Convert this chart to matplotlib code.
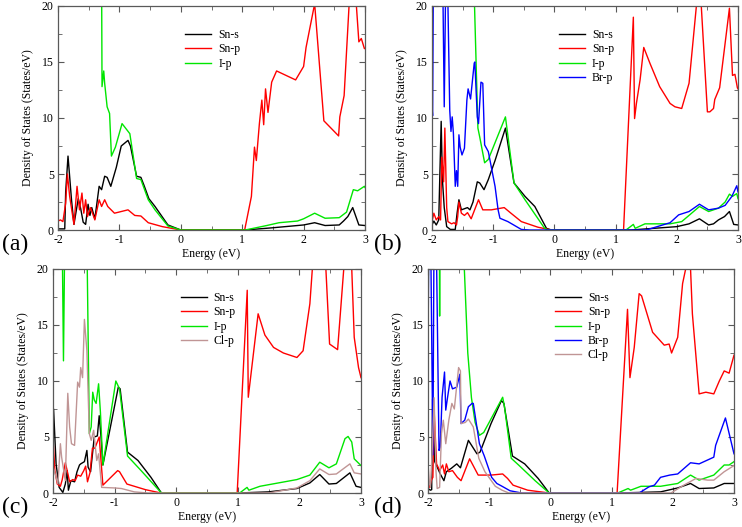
import matplotlib
matplotlib.use("Agg")
import matplotlib.pyplot as plt
from matplotlib.ticker import MultipleLocator

plt.rcParams["font.family"] = ["Liberation Serif", "DejaVu Serif"]
plt.rcParams["axes.unicode_minus"] = False

# ---- panel (a): Sn-s, Sn-p, I-p ----
a_sns_e = [-2.0, -1.89, -1.875, -1.837, -1.78, -1.74, -1.67, -1.63, -1.59, -1.55, -1.51, -1.48, -1.45, -1.40,
           -1.33, -1.29, -1.24, -1.20, -1.14, -1.05, -0.97, -0.86, -0.82, -0.72, -0.65, -0.60, -0.52, -0.42,
           -0.21, 0.0, 1.05, 1.5, 2.0, 2.18, 2.35, 2.58, 2.65, 2.72, 2.80, 2.90, 3.0]
a_sns_v = [0.1, 0.1, 3.4, 6.6, 2.7, 0.5, 2.8, 1.9, 0.7, 0.5, 2.3, 1.3, 2.0, 1.0,
           3.9, 3.6, 4.8, 4.7, 3.9, 5.6, 7.5, 8.0, 7.5, 4.8, 4.7, 4.0, 2.8, 2.1,
           0.45, 0.0, 0.0, 0.2, 0.45, 0.65, 0.4, 0.45, 0.8, 1.2, 2.0, 0.45, 0.4]
a_snp_e = [-2.0, -1.96, -1.92, -1.875, -1.847, -1.81, -1.74, -1.69, -1.65, -1.61, -1.58, -1.55, -1.52, -1.47,
           -1.40, -1.33, -1.29, -1.24, -1.19, -1.08, -0.86, -0.75, -0.65, -0.53, -0.3, 0.0, 1.04, 1.15, 1.20,
           1.23, 1.28, 1.32, 1.35, 1.38, 1.42, 1.48, 1.56, 1.87, 2.00, 2.04, 2.18, 2.33, 2.57, 2.59, 2.66,
           2.74, 2.80, 2.86, 2.90, 2.94, 2.99, 3.0]
a_snp_v = [0.8, 0.9, 0.75, 2.4, 5.0, 3.0, 0.5, 3.9, 1.8, 3.3, 1.5, 2.7, 1.2, 2.0,
           0.9, 2.7, 2.1, 2.7, 2.1, 1.5, 1.8, 1.3, 1.25, 0.65, 0.3, 0.0, 0.0, 3.0, 7.4,
           6.2, 9.5, 11.6, 9.4, 12.6, 10.5, 13.2, 14.2, 13.4, 14.6, 16.3, 20.2, 9.75, 8.4, 10.1, 12.0,
           20.0, 24.0, 20.0, 16.8, 17.1, 16.2, 16.2]
a_ip_e = [-1.295, -1.283, -1.255, -1.24, -1.20, -1.16, -1.13, -1.065, -0.957, -0.83, -0.72, -0.65, -0.53,
          -0.42, -0.21, 0.0, 1.05, 1.4, 1.6, 1.9, 2.0, 2.18, 2.35, 2.58, 2.70, 2.81, 2.88, 2.99, 3.0]
a_ip_v = [30.0, 12.8, 14.2, 13.1, 11.0, 10.4, 6.6, 7.4, 9.5, 8.6, 4.6, 4.5, 2.7,
          1.8, 0.36, 0.0, 0.0, 0.4, 0.65, 0.8, 1.0, 1.5, 1.05, 1.1, 1.6, 3.6, 3.5, 3.9, 3.8]

# ---- panel (b): Sn-s, Sn-p, I-p, Br-p ----
b_sns_e = [-2.0, -1.97, -1.93, -1.89, -1.85, -1.83, -1.80, -1.76, -1.70, -1.62, -1.59, -1.56, -1.52, -1.47,
           -1.42, -1.38, -1.33, -1.26, -1.22, -1.15, -1.08, -0.97, -0.80, -0.66, -0.48, -0.32, -0.13, -0.05,
           1.25, 1.5, 2.0, 2.2, 2.37, 2.52, 2.60, 2.68, 2.78, 2.86, 2.93, 3.0]
b_sns_v = [0.45, 0.8, 0.45, 0.9, 9.7, 4.5, 2.0, 0.3, 0.05, 0.05, 1.5, 2.7, 1.8, 1.9,
           2.0, 1.8, 2.5, 4.3, 4.2, 3.6, 4.5, 6.2, 9.1, 4.2, 3.0, 2.1, 0.15, 0.0,
           0.0, 0.1, 0.3, 0.55, 1.0, 0.45, 0.55, 0.9, 1.2, 1.65, 0.5, 0.45]
b_snp_e = [-2.0, -1.97, -1.93, -1.89, -1.86, -1.84, -1.81, -1.79, -1.76, -1.74, -1.68, -1.64, -1.60, -1.58,
           -1.56, -1.52, -1.47, -1.42, -1.36, -1.24, -1.17, -1.03, -0.82, -0.71, -0.54, -0.27, -0.05, 1.13,
           1.29, 1.31, 1.34, 1.40, 1.46, 1.56, 1.72, 1.89, 1.97, 2.08, 2.20, 2.32, 2.36, 2.40, 2.50, 2.54,
           2.60, 2.62, 2.70, 2.86, 2.91, 2.95, 2.99, 3.0]
b_snp_v = [0.75, 1.5, 0.9, 1.2, 0.9, 6.5, 4.3, 9.1, 2.0, 0.75, 0.55, 0.65, 0.45, 1.2,
           2.5, 1.5, 1.3, 1.55, 1.0, 2.7, 1.8, 1.8, 2.0, 1.5, 0.75, 0.25, 0.0, 0.0,
           19.0, 9.95, 11.3, 13.4, 16.3, 14.9, 12.8, 11.3, 11.0, 10.85, 13.1, 20.0, 24.0, 20.0, 10.55, 10.55,
           10.85, 11.65, 12.7, 19.8, 13.8, 13.9, 12.7, 12.6]
b_ip_e = [-1.31, -1.25, -1.22, -1.14, -1.08, -0.80, -0.66, -0.48, -0.16, -0.11, 1.17, 1.29, 1.32,
          1.48, 1.89, 2.08, 2.21, 2.37, 2.52, 2.68, 2.79, 2.86, 2.91, 2.98, 3.0]
b_ip_v = [21.0, 9.1, 8.3, 6.0, 6.3, 10.1, 4.2, 2.7, 0.15, 0.0, 0.0, 0.5, 0.15,
          0.55, 0.55, 0.75, 1.35, 2.1, 1.65, 1.95, 2.5, 3.2, 3.0, 3.25, 2.8]
b_brp_e = [-2.0, -1.99, -1.975, -1.83, -1.80, -1.77, -1.755, -1.71, -1.69, -1.67, -1.65, -1.62, -1.60, -1.58,
           -1.56, -1.54, -1.51, -1.47, -1.43, -1.41, -1.37, -1.31, -1.30, -1.26, -1.24, -1.20, -1.17, -1.14,
           -1.08, -1.03, -0.97, -0.92, -0.89, -0.76, -0.54, -0.40, 1.5, 1.89, 2.03, 2.20, 2.37, 2.52, 2.68,
           2.79, 2.90, 2.98, 3.0]
b_brp_v = [11.0, 10.2, 25.0, 25.0, 11.0, 25.0, 25.0, 10.7, 8.8, 10.1, 8.6, 3.9, 5.3, 3.9,
           8.5, 7.4, 6.7, 7.3, 11.6, 12.6, 11.7, 14.9, 15.0, 10.1, 9.5, 13.2, 13.1, 7.6,
           7.0, 5.6, 3.9, 1.8, 1.05, 0.75, 0.05, 0.0, 0.0, 0.65, 1.35, 1.65, 2.3, 1.8, 1.95,
           2.2, 3.0, 3.95, 3.4]

# ---- panel (c): Sn-s, Sn-p, I-p, Cl-p ----
c_sns_e = [-2.0, -1.99, -1.95, -1.90, -1.84, -1.80, -1.77, -1.75, -1.71, -1.65, -1.61, -1.57, -1.55, -1.49,
           -1.45, -1.43, -1.39, -1.33, -1.28, -1.25, -1.22, -1.19, -0.94, -0.91, -0.79, -0.62, -0.41, -0.24,
           1.0, 1.5, 1.96, 2.17, 2.33, 2.48, 2.60, 2.82, 2.92, 3.0]
c_sns_v = [7.8, 7.4, 2.6, 0.5, 0.05, 0.8, 2.0, 0.25, 1.1, 1.0, 1.9, 2.5, 2.6, 2.8,
           3.8, 2.3, 1.9, 5.0, 5.1, 6.9, 5.0, 2.5, 9.45, 9.3, 3.65, 2.9, 1.4, 0.0,
           0.0, 0.1, 0.4, 0.9, 1.65, 0.8, 0.85, 1.8, 0.6, 0.5]
c_snp_e = [-2.0, -1.97, -1.93, -1.88, -1.85, -1.80, -1.77, -1.73, -1.68, -1.64, -1.60, -1.55, -1.50, -1.47,
           -1.44, -1.40, -1.36, -1.32, -1.25, -1.19, -0.95, -0.92, -0.80, -0.5, -0.25, 0.99, 1.153, 1.17,
           1.33, 1.44, 1.58, 1.74, 1.96, 2.06, 2.17, 2.21, 2.32, 2.43, 2.49, 2.62, 2.72, 2.78, 2.85, 2.89,
           2.96, 3.0]
c_snp_v = [4.8, 2.0, 0.8, 0.6, 1.2, 2.7, 2.0, 1.0, 1.2, 1.1, 1.6, 1.5, 2.0, 2.4,
           1.0, 1.8, 4.0, 4.0, 5.0, 0.7, 2.0, 1.9, 0.8, 0.3, 0.0, 0.0, 18.1, 8.55,
           16.0, 14.1, 13.0, 12.5, 12.1, 12.7, 16.9, 20.0, 26.0, 20.0, 13.3, 12.8, 20.0, 24.0, 20.0, 13.9,
           11.2, 10.3]
c_ip_e = [-1.855, -1.83, -1.805, -1.455, -1.41, -1.38, -1.355, -1.33, -1.30, -1.26, -1.23, -1.19, -0.98,
          -0.92, -0.79, -0.57, -0.24, 1.03, 1.15, 1.18, 1.36, 1.96, 2.17, 2.33, 2.48, 2.60, 2.74, 2.79,
          2.85, 2.89, 3.0]
c_ip_v = [25.0, 11.8, 25.0, 25.0, 5.3, 5.9, 9.0, 8.3, 8.0, 9.75, 7.2, 2.5, 10.0,
          9.3, 3.3, 2.0, 0.0, 0.0, 0.5, 0.25, 0.6, 1.2, 1.6, 2.75, 2.25, 2.6, 4.85, 5.05,
          4.55, 3.05, 2.45]
c_clp_e = [-2.0, -1.99, -1.92, -1.88, -1.86, -1.80, -1.76, -1.73, -1.70, -1.65, -1.60, -1.57, -1.55, -1.52,
           -1.49, -1.45, -1.41, -1.38, -1.34, -1.29, -1.26, -1.21, -1.0, -0.89, -0.68, -0.46, 1.5, 1.96,
           2.17, 2.33, 2.48, 2.60, 2.82, 2.89, 3.0]
c_clp_v = [2.5, 2.2, 0.8, 4.4, 3.2, 1.1, 8.9, 5.9, 4.4, 4.25, 9.9, 9.45, 11.2, 10.3,
           15.5, 12.7, 5.3, 4.7, 5.6, 2.9, 3.5, 0.5, 0.45, 0.4, 0.1, 0.0, 0.0, 0.45,
           1.1, 2.15, 1.65, 1.7, 2.6, 1.8, 1.7]

# ---- panel (d): Sn-s, Sn-p, I-p, Br-p, Cl-p ----
d_sns_e = [-2.0, -1.96, -1.94, -1.925, -1.89, -1.84, -1.80, -1.74, -1.70, -1.62, -1.53, -1.47, -1.34, -1.20,
           -1.15, -0.97, -0.80, -0.76, -0.62, -0.42, -0.2, -0.02, 1.1, 1.80, 2.08, 2.29, 2.43, 2.67, 2.84, 3.0]
d_sns_v = [0.4, 0.25, 0.3, 8.4, 2.8, 2.2, 1.7, 1.1, 1.9, 2.2, 2.6, 2.25, 4.7, 3.5,
           3.65, 6.2, 8.25, 8.0, 3.3, 2.6, 1.3, 0.0, 0.0, 0.1, 0.45, 0.85, 0.4, 0.45, 0.85, 0.85]
d_snp_e = [-2.0, -1.97, -1.95, -1.92, -1.90, -1.86, -1.81, -1.76, -1.73, -1.70, -1.66, -1.60, -1.52, -1.46,
           -1.32, -1.18, -0.97, -0.78, -0.70, -0.61, -0.37, -0.02, 1.09, 1.26, 1.30, 1.37, 1.45, 1.49, 1.67,
           1.86, 1.94, 1.98, 2.08, 2.16, 2.21, 2.25, 2.29, 2.32, 2.43, 2.54, 2.67, 2.76, 2.84, 2.92, 3.0]
d_snp_v = [0.8, 0.5, 1.1, 1.4, 7.4, 2.6, 2.0, 2.5, 1.7, 2.6, 1.9, 2.0, 1.4, 1.1,
           3.05, 1.6, 1.6, 1.7, 1.3, 0.7, 0.25, 0.0, 0.0, 16.4, 10.3, 13.0, 17.8, 17.6, 14.35,
           13.2, 13.3, 12.5, 13.9, 18.7, 20.0, 21.5, 20.0, 16.0, 8.85, 9.0, 8.85, 10.0, 10.9, 10.7, 12.3]
d_ip_e = [-2.0, -1.995, -1.99, -1.815, -1.81, -1.805, -1.41, -1.35, -1.29, -1.23, -1.16, -1.09, -0.78, -0.75,
          -0.64, -0.52, -0.25, -0.02, 1.10, 1.27, 1.31, 1.48, 1.80, 2.08, 2.29, 2.43, 2.67, 2.84, 2.92, 3.0]
d_ip_v = [25.0, 18.0, 25.0, 25.0, 15.8, 25.0, 20.5, 12.5, 8.5, 6.3, 5.15, 5.4, 8.55, 7.7,
          3.1, 2.5, 1.1, 0.0, 0.0, 0.4, 0.25, 0.6, 0.6, 0.85, 1.6, 1.15, 1.6, 2.5, 2.5, 2.8]
d_brp_e = [-2.0, -1.985, -1.96, -1.92, -1.90, -1.87, -1.82, -1.80, -1.77, -1.73, -1.71, -1.68, -1.64, -1.60,
           -1.53, -1.48, -1.46, -1.40, -1.34, -1.28, -1.26, -1.16, -1.08, -0.96, -0.875, -0.79, -0.66, -0.47,
           1.45, 1.61, 1.70, 1.80, 1.95, 2.08, 2.29, 2.43, 2.67, 2.70, 2.86, 3.0]
d_brp_v = [12.0, 25.0, 25.0, 3.4, 25.0, 25.0, 3.8, 4.1, 8.55, 10.8, 7.4, 8.55, 10.0, 9.3,
           9.45, 10.6, 6.2, 6.5, 7.7, 8.0, 8.0, 4.4, 3.3, 1.4, 0.85, 0.6, 0.2, 0.0,
           0.0, 0.55, 0.7, 1.4, 1.6, 1.7, 2.7, 2.6, 3.2, 4.25, 6.7, 3.5]
d_clp_e = [-2.0, -1.98, -1.96, -1.93, -1.90, -1.87, -1.85, -1.81, -1.78, -1.75, -1.71, -1.66, -1.61, -1.57,
           -1.50, -1.47, -1.46, -1.39, -1.34, -1.26, -1.17, -1.07, -0.90, -0.79, -0.68, 1.97, 2.18, 2.38,
           2.57, 2.67, 2.84, 3.0]
d_clp_v = [2.6, 1.1, 0.5, 4.0, 8.5, 2.0, 0.4, 0.5, 5.3, 6.5, 4.4, 6.5, 8.0, 7.5,
           11.2, 10.9, 6.2, 6.3, 6.6, 5.9, 3.1, 1.9, 0.6, 0.25, 0.0, 0.0, 0.7, 1.3,
           1.15, 1.15, 1.9, 2.45]

COLORS = {"Sn-s": "black", "Sn-p": "#ff0000", "I-p": "#00e600", "Br-p": "#0000ff", "Cl-p": "#c09595"}

# tag, tag x (px), axes box [left, right, top, bottom] in px, series
panels = [
    ("(a)", 2, [58, 365, 6, 230], [("Sn-s", a_sns_e, a_sns_v), ("Sn-p", a_snp_e, a_snp_v), ("I-p", a_ip_e, a_ip_v)]),
    ("(b)", 374, [432, 738, 6, 230], [("Sn-s", b_sns_e, b_sns_v), ("Sn-p", b_snp_e, b_snp_v),
                                      ("I-p", b_ip_e, b_ip_v), ("Br-p", b_brp_e, b_brp_v)]),
    ("(c)", 2, [53, 361, 269, 493], [("Sn-s", c_sns_e, c_sns_v), ("Sn-p", c_snp_e, c_snp_v),
                                     ("I-p", c_ip_e, c_ip_v), ("Cl-p", c_clp_e, c_clp_v)]),
    ("(d)", 374, [428, 734, 269, 493], [("Sn-s", d_sns_e, d_sns_v), ("Sn-p", d_snp_e, d_snp_v),
                                        ("I-p", d_ip_e, d_ip_v), ("Br-p", d_brp_e, d_brp_v),
                                        ("Cl-p", d_clp_e, d_clp_v)]),
]

W, H = 742, 527
fig = plt.figure(figsize=(W / 100, H / 100), dpi=100)

for tag, tag_x, (x0, x1, y0, y1), series in panels:
    ax = fig.add_axes([x0 / W, 1 - y1 / H, (x1 - x0) / W, (y1 - y0) / H])
    for name, e, v in series:
        ax.plot(e, v, color=COLORS[name], lw=1.0, label=name)
    ax.set_xlim(-2, 3)
    ax.set_ylim(0, 20)
    ax.xaxis.set_major_locator(MultipleLocator(1))
    ax.xaxis.set_minor_locator(MultipleLocator(0.5))
    ax.yaxis.set_major_locator(MultipleLocator(5))
    ax.yaxis.set_minor_locator(MultipleLocator(2.5))
    ax.tick_params(which="both", direction="in", top=True, right=True, color="0.35", labelsize=8.5, pad=3)
    ax.tick_params(which="major", length=4)
    ax.tick_params(which="minor", length=3)
    for sp in ax.spines.values():
        sp.set_color("0.35")
        sp.set_linewidth(0.9)
    ax.set_xlabel("Energy (eV)", fontsize=8.5, labelpad=1)
    ax.set_ylabel("Density of States (States/eV)", fontsize=8.5, labelpad=6)
    ax.legend(loc="upper left", bbox_to_anchor=(0.38, 0.945), frameon=False, fontsize=8.5,
              handlelength=2.2, labelspacing=0.2, handletextpad=0.6)
    fig.text(tag_x / W, 1 - (y1 + 14) / H, tag, fontsize=17, va="center", ha="left")

fig.savefig("out.png", dpi=100)
